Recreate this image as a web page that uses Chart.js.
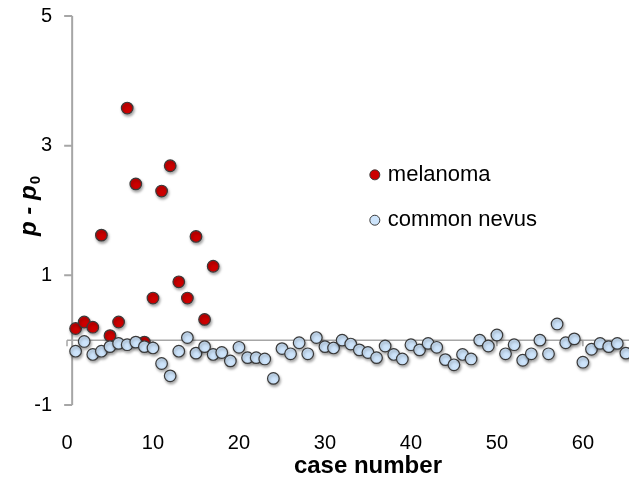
<!DOCTYPE html>
<html>
<head>
<meta charset="utf-8">
<script src="https://cdn.jsdelivr.net/npm/chart.js@4.4.1/dist/chart.umd.min.js"></script>
<style>
    html, body { margin: 0; padding: 0; overflow: hidden; background: #fff; }
    #wrap { width: 629px; height: 483px; overflow: hidden; }
</style>
</head>
<body>
<div id="wrap"><canvas id="chart" width="706" height="483"></canvas></div>
<script>
// values
const melanomaCase = [1, 2, 3, 4, 5, 6, 7, 8, 9, 10, 11, 12, 13, 14, 15, 16, 17];
const melanomaVal = [0.18, 0.28, 0.20, 1.62, 0.07, 0.28, 3.58, 2.41, -0.03, 0.65, 2.30, 2.69, 0.90, 0.65, 1.60, 0.32, 1.14];

const nevusCase = [1, 2, 3, 4, 5, 6, 7, 8, 9, 10, 11, 12, 13, 14, 15, 16, 17, 18, 19, 20,
    21, 22, 23, 24, 25, 26, 27, 28, 29, 30, 31, 32, 33, 34, 35, 36, 37, 38, 39, 40,
    41, 42, 43, 44, 45, 46, 47, 48, 49, 50, 51, 52, 53, 54, 55, 56, 57, 58, 59, 60,
    61, 62, 63, 64, 65];
const nevusVal = [-0.17, -0.02, -0.22, -0.17, -0.10, -0.05, -0.07, -0.03, -0.10, -0.12,
    -0.36, -0.55, -0.17, 0.04, -0.20, -0.10, -0.22, -0.19, -0.32, -0.11,
    -0.27, -0.27, -0.29, -0.59, -0.13, -0.21, -0.04, -0.21, 0.04, -0.10,
    -0.12, 0.00, -0.06, -0.15, -0.19, -0.27, -0.09, -0.22, -0.29, -0.07,
    -0.15, -0.05, -0.11, -0.30, -0.38, -0.22, -0.29, 0.00, -0.09, 0.08,
    -0.21, -0.07, -0.31, -0.21, 0.00, -0.21, 0.25, -0.04, 0.02, -0.34,
    -0.14, -0.05, -0.10, -0.05, -0.20];

const seriesNames = ['melanoma', 'common nevus'];
const xLabel = 'case number';
const yMin = -1, yMax = 5, yStep = 2;
const xMin = 0, xMax = 70, xStep = 10;
const yAxisCross = 0.6;

const FONT = '"Liberation Sans", Arial, Helvetica, sans-serif';
const AXIS_GREY = '#a6a6a6';
const EDGE = '#3a3a3a';

Chart.defaults.font.family = FONT;
Chart.defaults.color = '#000';

// thin grey axis lines: the y axis and the zero line that crosses the plot
const axisLines = {
    id: 'axisLines',
    beforeDatasetsDraw(chart) {
        const { ctx, chartArea, scales: { x, y } } = chart;
        ctx.save();
        ctx.strokeStyle = AXIS_GREY;
        const y0 = y.getPixelForValue(0);
        ctx.lineWidth = 1.5;
        ctx.beginPath();
        ctx.moveTo(x.getPixelForValue(xMin), y0);
        ctx.lineTo(chartArea.right, y0);
        x.ticks.forEach(t => {
            const px = x.getPixelForValue(t.value);
            ctx.moveTo(px, y0);
            ctx.lineTo(px, y0 + 6);
        });
        ctx.stroke();

        const xa = x.getPixelForValue(yAxisCross);
        ctx.lineWidth = 2;
        ctx.beginPath();
        ctx.moveTo(xa, y.getPixelForValue(yMax));
        ctx.lineTo(xa, y.getPixelForValue(yMin));
        y.ticks.forEach(t => {
            const py = y.getPixelForValue(t.value);
            ctx.moveTo(xa, py);
            ctx.lineTo(xa - 8, py);
        });
        ctx.stroke();
        ctx.restore();
    }
};

// soft drop shadow under the markers
const markerShadow = {
    id: 'markerShadow',
    beforeDatasetDraw(chart) {
        const ctx = chart.ctx;
        ctx.save();
        ctx.shadowColor = 'rgba(0,0,0,0.35)';
        ctx.shadowBlur = 3;
        ctx.shadowOffsetX = 1;
        ctx.shadowOffsetY = 2;
    },
    afterDatasetDraw(chart) {
        chart.ctx.restore();
    }
};

// y title with subscript and the legend inside the plot
const labels = {
    id: 'labels',
    afterDraw(chart) {
        const { ctx, chartArea } = chart;
        ctx.save();
        // y title "p - p0"
        const cy = (chartArea.top + chartArea.bottom) / 2 - 4;
        ctx.translate(29, cy);
        ctx.rotate(-Math.PI / 2);
        ctx.fillStyle = '#000';
        ctx.textBaseline = 'middle';
        ctx.font = 'italic bold 24px ' + FONT;
        const main = 'p - p';
        const wMain = ctx.measureText(main).width;
        ctx.font = 'bold 15px ' + FONT;
        const wSub = ctx.measureText('0').width;
        const start = -(wMain + wSub) / 2;
        ctx.font = 'italic bold 24px ' + FONT;
        ctx.textAlign = 'left';
        ctx.fillText(main, start, 0);
        ctx.font = 'bold 15px ' + FONT;
        ctx.fillText('0', start + wMain + 1, 7);
        ctx.restore();

        // legend
        ctx.save();
        const lx = chart.scales.x.getPixelForValue(35.8);
        const rows = [chart.scales.y.getPixelForValue(2.55), chart.scales.y.getPixelForValue(1.85)];
        chart.data.datasets.slice().sort((a, b) => a.legendRow - b.legendRow).forEach((ds, i) => {
            ctx.beginPath();
            ctx.arc(lx, rows[i], 5, 0, Math.PI * 2);
            ctx.fillStyle = ds.backgroundColor;
            ctx.fill();
            ctx.lineWidth = 1;
            ctx.strokeStyle = EDGE;
            ctx.stroke();
            ctx.fillStyle = '#000';
            ctx.font = '22px ' + FONT;
            ctx.textAlign = 'left';
            ctx.textBaseline = 'middle';
            ctx.fillText(ds.label, lx + 13, rows[i]);
        });
        ctx.restore();
    }
};

const ctx = document.getElementById('chart').getContext('2d');
const myChart = new Chart(ctx, {
    type: 'scatter',
    data: {
        datasets: [
            {
                label: seriesNames[1],
                legendRow: 1,
                data: nevusCase.map((c, i) => ({ x: c, y: nevusVal[i] })),
                backgroundColor: '#cde4fb',
                borderColor: EDGE,
                borderWidth: 1.2,
                pointRadius: 5.8,
                order: 0
            },
            {
                label: seriesNames[0],
                legendRow: 0,
                data: melanomaCase.map((c, i) => ({ x: c, y: melanomaVal[i] })),
                backgroundColor: '#cc0000',
                borderColor: EDGE,
                borderWidth: 1.2,
                pointRadius: 5.8,
                order: 1
            }
        ]
    },
    options: {
        responsive: false,
        animation: false,
        layout: { padding: { top: 0, right: 13, bottom: 0, left: 0 } },
        plugins: {
            legend: { display: false },
            tooltip: { enabled: false }
        },
        scales: {
            x: {
                type: 'linear',
                min: xMin,
                max: xMax,
                grid: { display: false, drawTicks: false },
                border: { display: false },
                ticks: { stepSize: xStep, includeBounds: false, padding: 26, font: { size: 20 } },
                title: { display: true, text: xLabel, font: { size: 24, weight: 'bold' }, padding: { top: 0, bottom: 2 } },
                afterFit: s => { s.height = 78; }
            },
            y: {
                min: yMin,
                max: yMax,
                grid: { display: false, drawTicks: false },
                border: { display: false },
                ticks: { stepSize: yStep, padding: 15, font: { size: 20 } },
                afterFit: s => { s.width = 67; s.paddingTop = 16; s.paddingBottom = 12; }
            }
        }
    },
    plugins: [axisLines, markerShadow, labels]
});
</script>
</body>
</html>
